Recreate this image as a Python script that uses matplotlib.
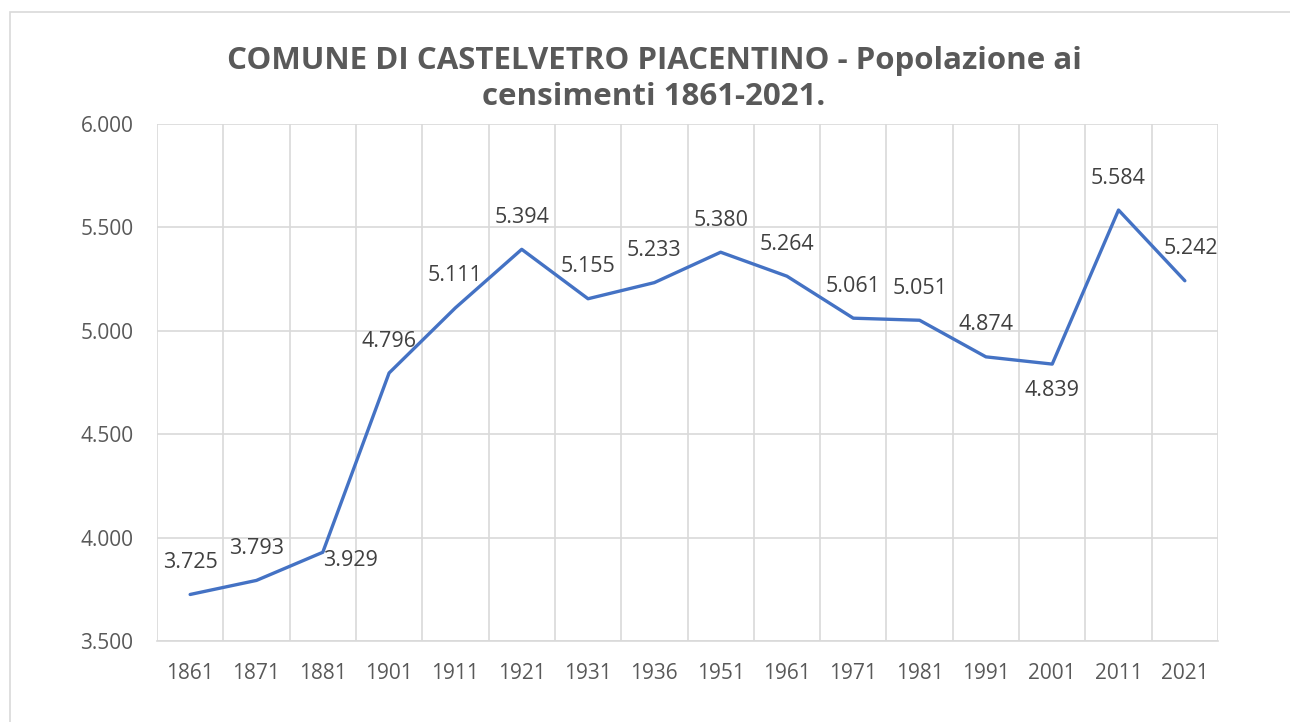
import matplotlib
matplotlib.use("Agg")
import matplotlib.pyplot as plt
from matplotlib.patches import Rectangle
from matplotlib.ticker import FuncFormatter, MultipleLocator

years = ["1861", "1871", "1881", "1901", "1911", "1921", "1931", "1936",
         "1951", "1961", "1971", "1981", "1991", "2001", "2011", "2021"]
population = [3725, 3793, 3929, 4796, 5111, 5394, 5155, 5233,
              5380, 5264, 5061, 5051, 4874, 4839, 5584, 5242]
# label offset (points) per data label, as Excel placed them
label_offsets = [(0, 23)] * 16
label_offsets[2] = (20, -6)
label_offsets[13] = (0, -19)
label_offsets[15] = (4, 23)

LINE = "#4472C4"
GRID = "#D9D9D9"
TEXT = "#595959"

plt.rcParams["font.family"] = ["Open Sans", "DejaVu Sans"]

fig = plt.figure(figsize=(12.9, 7.22), dpi=100)
ax = fig.add_axes([157 / 1290, 1 - 641 / 722, (1218 - 157) / 1290, (641 - 124) / 722])

x = list(range(len(years)))
ax.plot(x, population, color=LINE, lw=2.4, solid_capstyle="round", zorder=3)

for xi, v, off in zip(x, population, label_offsets):
    ax.annotate(f"{v:,}".replace(",", "."), (xi, v), xytext=off, textcoords="offset points",
                ha="center", va="center", fontsize=15.5, color="#404040", zorder=4)

ax.set_xlim(-0.5, len(years) - 0.5)
ax.set_ylim(3500, 6000)
ax.yaxis.set_major_locator(MultipleLocator(500))
ax.yaxis.set_major_formatter(FuncFormatter(lambda v, _: f"{int(v):,}".replace(",", ".")))
ax.set_xticks(x)
ax.set_xticklabels(years)
ax.set_xticks([i - 0.5 for i in range(len(years) + 1)], minor=True)
ax.grid(True, axis="y", which="major", color=GRID, lw=1.2)
ax.grid(True, axis="x", which="minor", color=GRID, lw=1.2)
ax.set_axisbelow(True)
ax.tick_params(which="both", length=0)
ax.tick_params(axis="y", pad=17, labelsize=15, labelcolor=TEXT)
ax.tick_params(axis="x", pad=16, labelsize=15, labelcolor=TEXT)
for s in ["top", "right", "left"]:
    ax.spines[s].set_visible(False)
ax.spines["bottom"].set_color(GRID)
ax.spines["bottom"].set_linewidth(1.2)

fig.text(654 / 1290, 1 - 79 / 722, "COMUNE DI CASTELVETRO PIACENTINO - Popolazione ai\ncensimenti 1861-2021.",
         ha="center", va="center", fontsize=22.5, fontweight="bold", color=TEXT, linespacing=1.3)

fig.patches.append(Rectangle((10 / 1290, -0.1), 1.2, 1 - 12 / 722 + 0.1, transform=fig.transFigure,
                             fill=False, edgecolor=GRID, lw=1.2, zorder=0))

fig.savefig("out.png", dpi=100, facecolor="white")
